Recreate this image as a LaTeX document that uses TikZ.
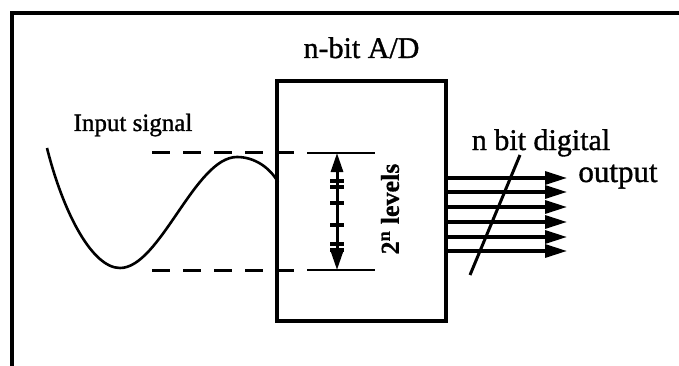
\documentclass[tikz,border=0pt]{standalone}
\usepackage{fontspec}
\setmainfont{Liberation Serif}
\newfontfamily\heavyserif[FakeBold=1.2]{Liberation Serif}
\newfontfamily\boldserif[FakeBold=0.6]{Liberation Serif Bold}
\usetikzlibrary{arrows.meta}
\tikzset{
  frameline/.style={line width=3.2pt, line cap=rect},
  boxstyle/.style={draw, line width=3.2pt, minimum width=169pt, minimum height=240pt, inner sep=0pt},
  lbl/.style={inner sep=0pt, anchor=base},
  dashline/.style={line width=3pt, dash pattern=on 18pt off 13pt},
  solidline/.style={line width=2.8pt},
  sigline/.style={line width=2.6pt},
  outarrow/.style={line width=3.2pt, -{Triangle[length=22pt,width=13pt]}},
  levarrow/.style={line width=3pt, {Triangle[length=19pt,width=12pt]}-{Triangle[length=19pt,width=12pt]}},
  tickline/.style={line width=3.2pt},
}
\begin{document}
\begin{tikzpicture}[x=1pt, y=-1pt]
\useasboundingbox (0,0) rectangle (679,366);
% outer frame (extends beyond the picture at right and bottom)
\coordinate (fbl) at (12,366);
\coordinate (ftl) at (12,13);
\coordinate (ftr) at (679,13);
\draw[frameline] (fbl) -- (ftl) -- (ftr);

% A/D box
\node[boxstyle] (adc) at (361.5,201) {};
\node[lbl, font=\heavyserif\fontsize{30}{30}\selectfont] (title) at (361.5,58) {n-bit A/D};

% input signal
\node[lbl, font=\heavyserif\fontsize{25}{25}\selectfont] (inlbl) at (133,131) {Input signal};
\coordinate (s0) at (47,148);
\coordinate (smin) at (120,268);
\coordinate (speak) at (237,157);
\coordinate (s1) at (278,182);
\draw[sigline] (s0) .. controls (63,212) and (92,268) .. (smin)
  .. controls (160,268) and (195,157) .. (speak)
  .. controls (255,157) and (270,168) .. (s1);

% dashed level lines
\coordinate (dt0) at (152,153);
\coordinate (dt1) at (300,153);
\coordinate (db0) at (152,270);
\coordinate (db1) at (300,270);
\draw[dashline] (dt0) -- (dt1);
\draw[dashline] (db0) -- (db1);
\coordinate (lt0) at (307,153);
\coordinate (lt1) at (375,153);
\coordinate (lb0) at (307,270);
\coordinate (lb1) at (375,270);
\draw[solidline] (lt0) -- (lt1);
\draw[solidline] (lb0) -- (lb1);

% levels arrow
\coordinate (at) at (337,153);
\coordinate (ab) at (337,270);
\draw[levarrow] (at) -- (ab);
\foreach \yy in {181,187,203,225,244,250} {
  \draw[tickline] (330,\yy) -- (344,\yy);
}
\node[inner sep=0pt, rotate=90, font=\boldserif\fontsize{26}{26}\selectfont] (lev) at (390,209) {2\textsuperscript{n} levels};

% digital outputs
\foreach \i/\yy in {1/178,2/192,3/207,4/222,5/237,6/251} {
  \coordinate (o\i s) at (446,\yy);
  \coordinate (o\i e) at (567,\yy);
  \draw[outarrow] (o\i s) -- (o\i e);
}
\coordinate (sl0) at (470,275);
\coordinate (sl1) at (520,155);
\draw[line width=3pt] (sl0) -- (sl1);
\node[lbl, font=\heavyserif\fontsize{30}{30}\selectfont] (nbit) at (541,150) {n bit digital};
\node[lbl, font=\heavyserif\fontsize{31}{31}\selectfont] (outl) at (618,182) {output};
\end{tikzpicture}
\end{document}
